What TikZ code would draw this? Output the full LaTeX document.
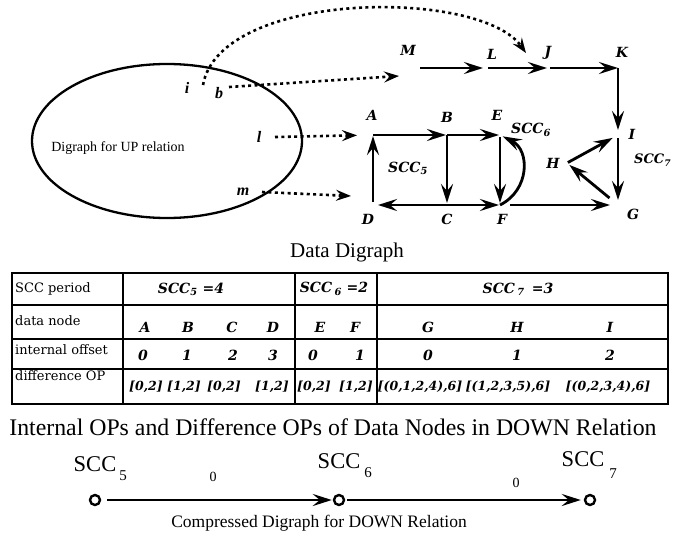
\documentclass[tikz,border=0pt]{standalone}
\usepackage{fontspec}
\setmainfont{Liberation Serif}
\newfontfamily\cent{DejaVu Serif}
\usetikzlibrary{arrows.meta,shapes.geometric}

\tikzset{
  lab/.style={font=\cent\bfseries\itshape\fontsize{14}{16}\selectfont, inner sep=0pt},
  ulab/.style={font=\bfseries\itshape\fontsize{16}{17}\selectfont, inner sep=0pt},
  tabrow/.style={font=\cent\fontsize{13}{15}\selectfont, inner sep=0pt, anchor=west},
  tabit/.style={font=\cent\bfseries\itshape\fontsize{14}{15}\selectfont, inner sep=0pt},
  tip/.tip={Stealth[length=19pt,width=12pt,inset=7pt]},
  edge/.style={line width=2.8pt, -tip},
  dedge/.style={line width=2.6pt, dash pattern=on 3pt off 3.4pt,
                -{Stealth[length=15pt,width=11pt,inset=5.5pt]}},
  gridline/.style={line width=1.7pt},
  captext/.style={inner sep=0pt},
  dot/.style={circle, draw, line width=2.4pt, minimum size=10pt, inner sep=0pt},
}

\begin{document}
\begin{tikzpicture}[x=1pt,y=-1pt]
\useasboundingbox[fill=white] (0,0) rectangle (674,535);

% ---------- UP relation digraph (ellipse) ----------
\node[draw, ellipse, line width=2.3pt, minimum width=270pt, minimum height=154pt, inner sep=0pt] (up) at (167,141) {};
\node[captext, font=\fontsize{14}{16}\selectfont] (uptext) at (118,148) {Digraph for UP relation};

\coordinate (i) at (203,85);
\coordinate (b) at (229,87);
\coordinate (l) at (275,137);
\coordinate (m) at (262,192);
\node[ulab] (ilab) at (187,88) {i};
\node[ulab] (blab) at (219,93) {b};
\node[ulab] (llab) at (259,137) {l};
\node[ulab] (mlab) at (243,192) {m};

% ---------- data digraph points ----------
\coordinate (M) at (420,68);
\coordinate (L) at (486,68);
\coordinate (J) at (548,68);
\coordinate (K) at (618,68);
\coordinate (I) at (618,135);
\coordinate (G) at (618,205);
\coordinate (H) at (567,163);
\coordinate (A) at (373,135);
\coordinate (B) at (447,135);
\coordinate (E) at (500,135);
\coordinate (D) at (373,205);
\coordinate (C) at (447,205);
\coordinate (F) at (500,205);
\coordinate (Min) at (399,76);
\coordinate (Jin) at (526,53);
\coordinate (Din) at (351,196);

% labels
\node[lab] (Mlab) at (408,50) {M};
\node[lab] (Llab) at (492,54) {L};
\node[lab] (Jlab) at (548,53) {J};
\node[lab] (Klab) at (622,52) {K};
\node[lab] (Ilab) at (632,134) {I};
\node[lab] (Hlab) at (553,163) {H};
\node[lab] (Glab) at (633,214) {G};
\node[lab] (Alab) at (372,115) {A};
\node[lab] (Blab) at (447,117) {B};
\node[lab] (Elab) at (497,115) {E};
\node[lab] (Dlab) at (368,219) {D};
\node[lab] (Clab) at (447,219) {C};
\node[lab] (Flab) at (502,219) {F};
\node[lab, anchor=west] (scc5) at (388,168) {SCC\textsubscript{5}};
\node[lab, anchor=west] (scc6) at (511,130) {SCC\textsubscript{6}};
\node[lab, anchor=west, font=\cent\bfseries\itshape\fontsize{13}{15}\selectfont] (scc7) at (634,160) {SCC\textsubscript{7}};

% solid edges
\draw[edge, shorten >=3pt] (M) -- (L);
\draw[edge, shorten <=2pt, shorten >=1pt] (L) -- (J);
\draw[edge, shorten <=2pt] (J) -- (K);
\draw[edge, shorten >=5pt] (K) -- (I);
\draw[edge, shorten <=3pt, shorten >=5pt] (I) -- (G);
\draw[edge, shorten <=1pt, shorten >=6pt] (H) -- (I);
\draw[edge, shorten <=11pt, shorten >=3pt] (G) -- (H);
\draw[edge, shorten <=3pt, shorten >=1pt] (D) -- (A);
\draw[edge, shorten >=1pt] (A) -- (B);
\draw[edge, shorten >=1pt] (B) -- (E);
\draw[edge, shorten >=2pt] (B) -- (C);
\draw[edge, shorten <=2pt, shorten >=2pt] (E) -- (F);
\draw[edge, shorten >=5pt] (C) -- (D);
\draw[edge, shorten >=1pt] (C) -- (F);
\draw[edge, shorten <=10pt, shorten >=8pt] (F) -- (G);
\draw[edge, shorten >=3pt] (F) .. controls (530,190) and (530,150) .. (E);

% dashed edges from the UP relation
\draw[dedge] (b) -- (Min);
\draw[dedge, shorten >=16pt] (l) -- (A);
\draw[dedge] (m) -- (Din);
\draw[dedge] (i) .. controls (220,-10) and (480,-12) .. (Jin);

\node[captext, font=\fontsize{21}{23}\selectfont] (datacap) at (347,252) {Data Digraph};

% ---------- table ----------
\draw[line width=2.4pt] (12,273) rectangle (668,404);
\foreach \y in {305,339,369} \draw[gridline] (12,\y) -- (668,\y);
\foreach \x in {123,295,377} \draw[line width=2.2pt] (\x,273) -- (\x,404);

\node[tabrow] (r1) at (15,289) {SCC period};
\node[tabrow] (r2) at (15,321) {data node};
\node[tabrow] (r3) at (15,350) {internal offset};
\node[tabrow] (r4) at (15,376) {difference OP};

\node[tabit] (p5) at (191,289) {SCC\textsubscript{5} =4};
\node[tabit] (p6) at (334,289) {SCC\,\textsubscript{6} =2};
\node[tabit] (p7) at (518,289) {SCC\,\textsubscript{7}\, =3};

\foreach \x/\t [count=\k] in {145/A,188/B,232/C,273/D,320/E,355/F,428/G,517/H,610/I}
  \node[tabit] (dn\k) at (\x,327) {\t};
\foreach \x/\t [count=\k] in {143/0,187/1,233/2,273/3,313/0,360/1,428/0,517/1,610/2}
  \node[tabit] (io\k) at (\x,355) {\t};
\foreach \x/\t [count=\k] in {146/{[0,2]},184/{[1,2]},224/{[0,2]},272/{[1,2]},314/{[0,2]},356/{[1,2]},420/{[(0,1,2,4),6]},508/{[(1,2,3,5),6]},608/{[(0,2,3,4),6]}}
  \node[tabit, font=\cent\bfseries\itshape\fontsize{12.5}{15}\selectfont] (op\k) at (\x,387) {\t};

\node[captext, font=\fontsize{23.8}{25}\selectfont] (intcap) at (333,427) {Internal OPs and Difference OPs of Data Nodes in DOWN Relation};

% ---------- compressed digraph ----------
\node[dot] (s5) at (95,500) {};
\node[dot] (s6) at (339,500) {};
\node[dot] (s7) at (590,500) {};
\draw[edge, shorten <=6pt, shorten >=1pt] (s5) -- (s6);
\draw[edge, shorten <=2pt, shorten >=3pt] (s6) -- (s7);

\node[captext, font=\fontsize{22.5}{24}\selectfont] (n5) at (95,464) {SCC};
\node[captext, font=\fontsize{15}{16}\selectfont] (n5s) at (123,476) {5};
\node[captext, font=\fontsize{22.5}{24}\selectfont] (n6) at (339,461) {SCC};
\node[captext, font=\fontsize{15}{16}\selectfont] (n6s) at (368,473) {6};
\node[captext, font=\fontsize{22.5}{24}\selectfont] (n7) at (583,459) {SCC};
\node[captext, font=\fontsize{15}{16}\selectfont] (n7s) at (613,474) {7};
\node[captext, font=\fontsize{14}{15}\selectfont] (w1) at (213,477) {0};
\node[captext, font=\fontsize{14}{15}\selectfont] (w2) at (516,483) {0};

\node[captext, font=\fontsize{17.5}{19}\selectfont] (compcap) at (319,523) {Compressed Digraph for DOWN Relation};
\end{tikzpicture}
\end{document}
